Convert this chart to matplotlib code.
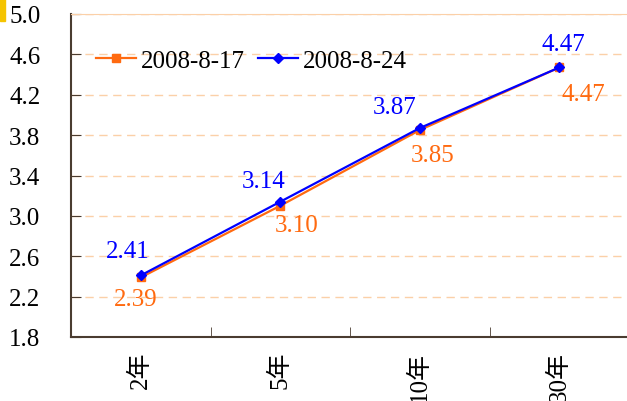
import matplotlib.pyplot as plt
from matplotlib.patches import Rectangle

plt.rcParams['font.family'] = ['Liberation Serif', 'Noto Sans CJK SC', 'DejaVu Sans']

# data
categories = ['2年', '5年', '10年', '30年']
s1_name = '2008-8-17'
s1 = [2.39, 3.10, 3.85, 4.47]
s2_name = '2008-8-24'
s2 = [2.41, 3.14, 3.87, 4.47]
yticks = [1.8, 2.2, 2.6, 3.0, 3.4, 3.8, 4.2, 4.6, 5.0]

orange = '#FF6A10'
blue = '#0000FF'
peach = '#FBD0A8'
dark = '#4a3c30'
fs = 18

fig = plt.figure(figsize=(6.27, 4.02), dpi=100)
ax = fig.add_axes([71 / 627, 64 / 402, 558 / 627, 323 / 402])

x = list(range(len(categories)))
ax.plot(x, s1, color=orange, marker='s', markersize=6, lw=1.6, label=s1_name, zorder=3)
ax.plot(x, s2, color=blue, marker='D', markersize=5, lw=1.6, label=s2_name, zorder=4)

# data labels (pixel offsets)
off1 = [(-5, -22), (16, -19), (13, -25), (24, -27)]
off2 = [(-13, 24), (-17, 21), (-25, 21), (4, 23)]
for xi, v, o in zip(x, s1, off1):
    ax.annotate(f'{v:.2f}', (xi, v), xytext=o, textcoords='offset pixels',
                ha='center', va='center', color=orange, fontsize=fs)
for xi, v, o in zip(x, s2, off2):
    ax.annotate(f'{v:.2f}', (xi, v), xytext=o, textcoords='offset pixels',
                ha='center', va='center', color=blue, fontsize=fs)

ax.set_xlim(-0.5, 3.5)
ax.set_ylim(1.8, 5.0)
ax.set_yticks(yticks)
ax.set_yticklabels([f'{t:.1f}' for t in yticks])
ax.yaxis.grid(True, color=peach, ls=(0, (6, 4)), lw=1)
ax.set_axisbelow(True)

ax.set_xticks(x)
ax.set_xticklabels(categories, rotation=90, va='top')
ax.set_xticks([0.5, 1.5, 2.5], minor=True)
ax.tick_params(axis='x', which='major', length=0, pad=10, labelsize=fs)
ax.tick_params(axis='x', which='minor', direction='in', length=7, color=dark)
ax.tick_params(axis='y', direction='in', length=7, color=dark, pad=22, labelsize=fs)

for side in ['left', 'bottom']:
    ax.spines[side].set_color(dark)
    ax.spines[side].set_linewidth(1.5)
ax.spines['top'].set_color(peach)
ax.spines['right'].set_visible(False)

ax.legend(loc='upper left', bbox_to_anchor=(0.005, 0.96), ncol=2, frameon=False,
          fontsize=fs, handlelength=1.6, columnspacing=0.5, handletextpad=0.2)

fig.patches.append(Rectangle((0, 380 / 402), 5 / 627, 22 / 402, color='#F5C400',
                             transform=fig.transFigure, figure=fig))

fig.savefig('out.png', dpi=100)
